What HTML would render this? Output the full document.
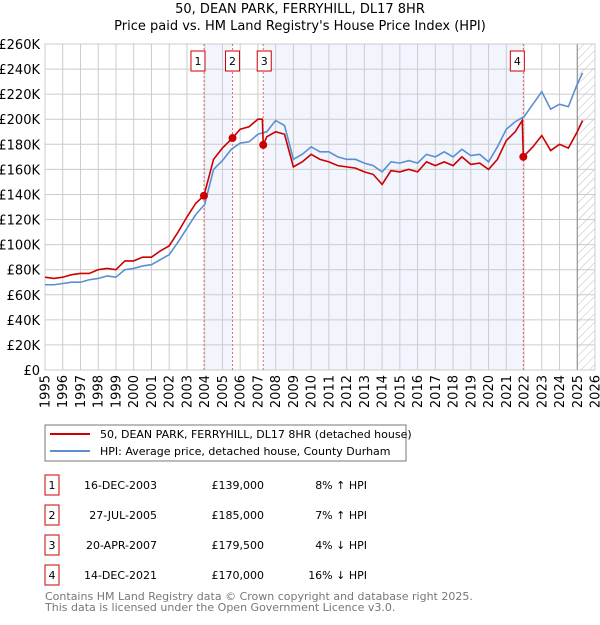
<!DOCTYPE html>
<html><head><meta charset="utf-8"><style>
body{margin:0;background:#fff;font-family:"Liberation Sans","DejaVu Sans",sans-serif;}
svg text{font-family:"DejaVu Sans","Liberation Sans",sans-serif;}
</style></head><body>
<svg id="c" width="600" height="620" xmlns="http://www.w3.org/2000/svg">
<defs><pattern id="hatch" width="6" height="6" patternUnits="userSpaceOnUse" patternTransform="rotate(45)"><line x1="0" y1="0" x2="0" y2="6" stroke="#bbb" stroke-width="1"/></pattern></defs>
<text x="300" y="13" text-anchor="middle" font-size="13">50, DEAN PARK, FERRYHILL, DL17 8HR</text>
<text x="300" y="30" text-anchor="middle" font-size="13">Price paid vs. HM Land Registry's House Price Index (HPI)</text>
<g id="plot"></g>
<g>
<rect x="45" y="425" width="361" height="36" fill="#fff" stroke="#777" stroke-width="1"/>
<line x1="50" y1="434" x2="90" y2="434" stroke="#cc0000" stroke-width="2"/>
<text x="100" y="438" font-size="11">50, DEAN PARK, FERRYHILL, DL17 8HR (detached house)</text>
<line x1="50" y1="451" x2="90" y2="451" stroke="#5b8fd0" stroke-width="2"/>
<text x="100" y="455" font-size="11">HPI: Average price, detached house, County Durham</text>
</g>
<g id="table" font-size="11"></g>
<text x="45" y="600" font-size="11" fill="#777">Contains HM Land Registry data © Crown copyright and database right 2025.</text>
<text x="45" y="611" font-size="11" fill="#777">This data is licensed under the Open Government Licence v3.0.</text>
</svg>
<script>
const hpiT=[1995,1995.5,1996,1996.5,1997,1997.5,1998,1998.5,1999,1999.5,2000,2000.5,2001,2001.5,2002,2002.5,2003,2003.5,2004,2004.5,2005,2005.5,2006,2006.5,2007,2007.5,2008,2008.5,2009,2009.5,2010,2010.5,2011,2011.5,2012,2012.5,2013,2013.5,2014,2014.5,2015,2015.5,2016,2016.5,2017,2017.5,2018,2018.5,2019,2019.5,2020,2020.5,2021,2021.5,2022,2022.5,2023,2023.5,2024,2024.5,2025,2025.3];
const hpiV=[68,68,69,70,70,72,73,75,74,80,81,83,84,88,92,102,113,124,132,160,167,176,181,182,188,190,199,195,168,172,178,174,174,170,168,168,165,163,158,166,165,167,165,172,170,174,170,176,171,172,166,178,192,198,202,212,222,208,212,210,228,237];
const redT=[1995,1995.5,1996,1996.5,1997,1997.5,1998,1998.5,1999,1999.5,2000,2000.5,2001,2001.5,2002,2002.5,2003,2003.5,2003.96,2004.5,2005,2005.57,2006,2006.5,2007,2007.25,2007.3,2007.5,2008,2008.5,2009,2009.5,2010,2010.5,2011,2011.5,2012,2012.5,2013,2013.5,2014,2014.5,2015,2015.5,2016,2016.5,2017,2017.5,2018,2018.5,2019,2019.5,2020,2020.5,2021,2021.5,2021.9,2021.96,2022.5,2023,2023.5,2024,2024.5,2025,2025.3];
const redV=[74,73,74,76,77,77,80,81,80,87,87,90,90,95,99,110,122,133,139,168,177,185,192,194,200,200,179.5,186,190,188,162,166,172,168,166,163,162,161,158,156,148,159,158,160,158,166,163,166,163,170,164,165,160,168,183,190,199,170,178,187,175,180,177,190,199];
const saleT=[2003.96,2005.57,2007.3,2021.96];
const saleV=[139,185,179.5,170];
const saleDates=["16-DEC-2003","27-JUL-2005","20-APR-2007","14-DEC-2021"];
const salePrices=["£139,000","£185,000","£179,500","£170,000"];
const salePct=["8% ↑ HPI","7% ↑ HPI","4% ↓ HPI","16% ↓ HPI"];
const yTicks=[0,20,40,60,80,100,120,140,160,180,200,220,240,260];
const xTicks=[1995,1996,1997,1998,1999,2000,2001,2002,2003,2004,2005,2006,2007,2008,2009,2010,2011,2012,2013,2014,2015,2016,2017,2018,2019,2020,2021,2022,2023,2024,2025,2026];

const L=45,R=595,T=44,B=370;
const X=t=>L+(t-1995)/31*(R-L);
const Y=v=>B-v/260*(B-T);
const NS="http://www.w3.org/2000/svg";
const P=document.getElementById('plot');
function mk(tag,at,par){const e=document.createElementNS(NS,tag);for(const k in at)e.setAttribute(k,at[k]);(par||P).appendChild(e);return e;}
let e;
e=mk('rect',{x:L,y:T,width:R-L,height:B-T,fill:'#fff'});


e=mk('rect',{x:X(saleT[0]),y:T,width:X(saleT[1])-X(saleT[0]),height:B-T,fill:'#f2f5fd'});


e=mk('rect',{x:X(saleT[2]),y:T,width:X(saleT[3])-X(saleT[2]),height:B-T,fill:'#f2f5fd'});


e=mk('rect',{x:X(2025.0),y:T,width:R-X(2025.0),height:B-T,fill:'url(#hatch)'});


yTicks.forEach(v=>{
 e=mk('line',{x1:L,x2:R,y1:Y(v),y2:Y(v),stroke:'#ccc','stroke-width':1});
 
 
 e=mk('text',{x:40,y:Y(v)+5,'text-anchor':'end','font-size':13});
 e.textContent=v===0?'£0':'£'+v+'K';
 
 
});
xTicks.forEach(t=>{
 e=mk('line',{x1:X(t),x2:X(t),y1:T,y2:B,stroke:'#ccc','stroke-width':1});
 
 
 e=mk('text',{x:0,y:0,'text-anchor':'end','font-size':13,transform:'translate('+(X(t)+4.5)+',375) rotate(-90)'});
 e.textContent=t;
 
 
});
e=mk('line',{x1:X(2025.0),x2:X(2025.0),y1:T,y2:B,stroke:'#888','stroke-width':1});


e=mk('rect',{x:L,y:T,width:R-L,height:B-T,fill:'none',stroke:'#ccc'});


saleT.forEach((t,i)=>{
 e=mk('line',{x1:X(t),x2:X(t),y1:T,y2:B,stroke:'#e66','stroke-width':1,'stroke-dasharray':'2,2'});
 
 
 e=mk('rect',{x:X(t)-(i===0?13:i===3?13:6)+ (i===1?-1:0),y:51,width:14,height:20,fill:'#fff',stroke:'#cc0000'});
 
 
 e=mk('text',{x:X(t)-(i===0?6:i===3?6:-1)+(i===1?-1:0),y:65,'text-anchor':'middle','font-size':11});
 e.textContent=String(i+1);
 
 
});
e=mk('polyline',{points:hpiT.map((t,i)=>X(t)+','+Y(hpiV[i])).join(' '),fill:'none',stroke:'#5b8fd0','stroke-width':1.6});


e=mk('polyline',{points:redT.map((t,i)=>X(t)+','+Y(redV[i])).join(' '),fill:'none',stroke:'#cc0000','stroke-width':1.6});


saleT.forEach((t,i)=>{
 e=mk('circle',{cx:X(t),cy:Y(saleV[i]),r:4,fill:'#cc0000'});
 
 
});
const TB=document.getElementById('table');
saleDates.forEach((d,i)=>{
 const y=485+i*30;
 e=mk('rect',{x:45,y:y-10,width:14,height:20,fill:'#fff',stroke:'#cc0000'},TB);
 
 
 e=mk('text',{x:52,y:y+4,'text-anchor':'middle'},TB);e.textContent=String(i+1);
 
 
 e=mk('text',{x:157,y:y+4,'text-anchor':'end'},TB);e.textContent=d;
 
 
 e=mk('text',{x:264,y:y+4,'text-anchor':'end'},TB);e.textContent=salePrices[i];
 
 
 e=mk('text',{x:367,y:y+4,'text-anchor':'end'},TB);e.textContent=salePct[i];
 
 
});
</script>
</body></html>
